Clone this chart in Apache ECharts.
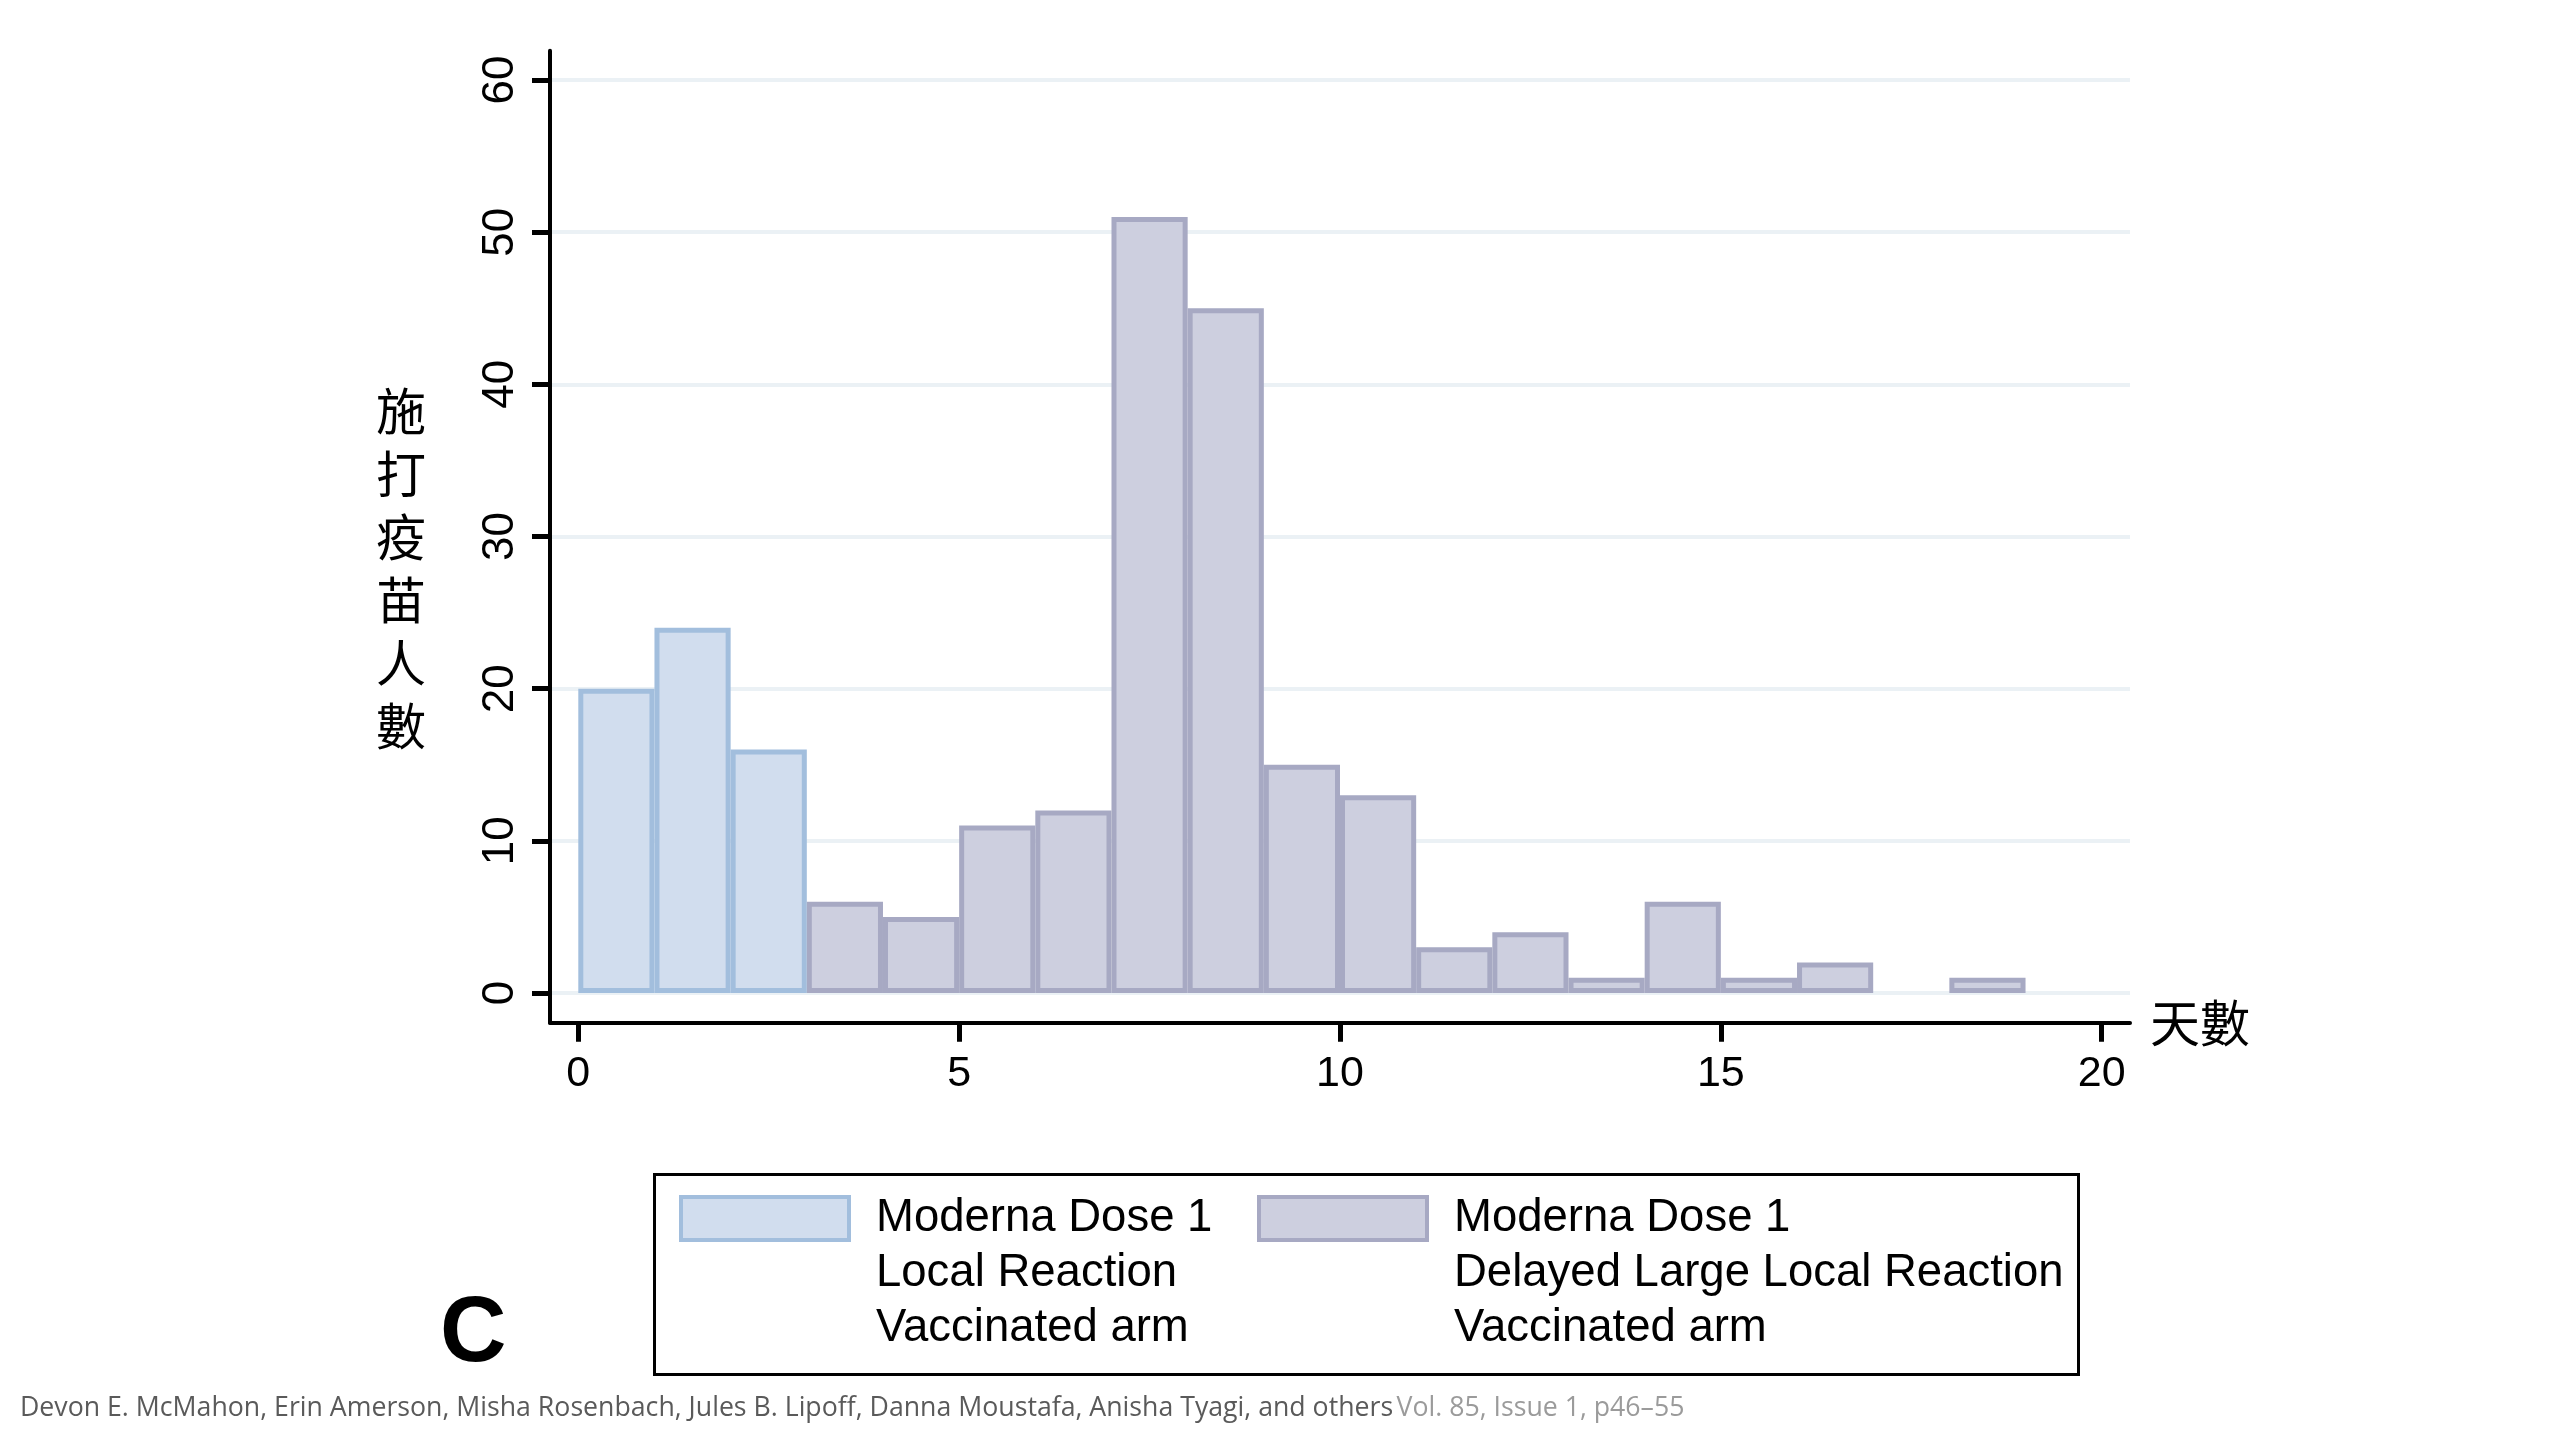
<!DOCTYPE html>
<html>
<head>
<meta charset="utf-8">
<script src="https://cdn.jsdelivr.net/npm/echarts@6/dist/echarts.min.js"></script>
<style>
html,body{margin:0;padding:0;background:#fff;}
#chart{width:2560px;height:1440px;}
</style>
</head>
<body>
<div id="chart"></div>
<script>
// ---- data ----
const binWidth = 1;
const localStarts = [0, 1, 2];
const localCounts = [20, 24, 16];
const delayedStarts = [3, 4, 5, 6, 7, 8, 9, 10, 11, 12, 13, 14, 15, 16, 17, 18];
const delayedCounts = [6, 5, 11, 12, 51, 45, 15, 13, 3, 4, 1, 6, 1, 2, 0, 1];
const xTicks = [0, 5, 10, 15, 20];
const yTicks = [0, 10, 20, 30, 40, 50, 60];
const seriesNames = ['Moderna Dose 1 Local Reaction Vaccinated arm', 'Moderna Dose 1 Delayed Large Local Reaction Vaccinated arm'];
const legendLines = [
  ['Moderna Dose 1', 'Local Reaction', 'Vaccinated arm'],
  ['Moderna Dose 1', 'Delayed Large Local Reaction', 'Vaccinated arm']
];
const yTitle = '施打疫苗人數';
const xTitle = '天數';
const panelLetter = 'C';
const creditAuthors = 'Devon E. McMahon, Erin Amerson, Misha Rosenbach, Jules B. Lipoff, Danna Moustafa, Anisha Tyagi, and others';
const creditSource = 'Vol. 85, Issue 1, p46–55';

// ---- build ----
const localData = localStarts.map((s, i) => [s, s + binWidth, localCounts[i]]);
const delayedData = delayedStarts.map((s, i) => [s, s + binWidth, delayedCounts[i]]);

const blueFill = '#d1ddee', blueStroke = '#a2bedd';
const grayFill = '#cdcfdf', grayStroke = '#a7a9c3';
const sansFont = '"Liberation Sans", Arial, Helvetica, sans-serif';
const cjkFont = '"Noto Sans CJK TC", "Noto Sans CJK SC", sans-serif';

function makeRender(fill, stroke) {
  return function (params, api) {
    const x0 = api.value(0), x1 = api.value(1), v = api.value(2);
    if (!v) return null;
    const p0 = api.coord([x0, 0]);
    const p1 = api.coord([x1, v]);
    const lw = 5;
    return {
      type: 'rect',
      shape: { x: p0[0] + lw / 2, y: p1[1] + lw / 2, width: p1[0] - p0[0] - lw, height: p0[1] - p1[1] - lw },
      style: { fill: fill, stroke: stroke, lineWidth: lw }
    };
  };
}

// pixel geometry
const axL = 550, axB = 1022.7, axT = 50.7, axR = 2130;
const x0px = 578.3, x20px = 2101.7, y0px = 993, y60px = 80;
const pxPerX = (x20px - x0px) / 20, pxPerY = (y0px - y60px) / 60;

const chart = echarts.init(document.getElementById('chart'), null, { renderer: 'canvas' });

function legendItem(idx, left, fill, stroke) {
  return {
    show: true,
    data: [{ name: seriesNames[idx], icon: 'rect', itemStyle: { color: fill, borderColor: stroke, borderWidth: 4 } }],
    left: left,
    top: 1076,
    padding: 5,
    itemWidth: 168,
    itemHeight: 43,
    selectedMode: false,
    formatter: () => '\n\n' + legendLines[idx].join('\n'),
    textStyle: {
      fontFamily: sansFont, fontSize: 45.5, color: '#000', lineHeight: 55,
      padding: [0, 0, 0, 22]
    }
  };
}

const blackLine = { color: '#000', width: 4 };

chart.setOption({
  animation: false,
  backgroundColor: '#fff',
  grid: [
    // 0: frame grid (axis lines)
    { left: axL, top: axT, width: axR - axL, height: axB - axT },
    // 1: y ticks + grid lines
    { left: axL, top: y60px, width: axR - axL, height: y0px - y60px },
    // 2: x ticks
    { left: x0px, top: y60px, width: x20px - x0px, height: axB - y60px },
    // 3: data grid
    { left: x0px, top: y60px, width: x20px - x0px, height: y0px - y60px }
  ],
  xAxis: [
    {
      gridIndex: 0, type: 'value',
      min: (axL - x0px) / pxPerX, max: (axR - x0px) / pxPerX,
      axisLine: { show: true, onZero: false, lineStyle: blackLine },
      axisTick: { show: false }, axisLabel: { show: false }, splitLine: { show: false },
      name: xTitle, nameLocation: 'end', nameGap: 20,
      nameTextStyle: { fontFamily: cjkFont, fontSize: 50, color: '#000', verticalAlign: 'middle' }
    },
    { gridIndex: 1, type: 'value', min: 0, max: 1, show: false },
    {
      gridIndex: 2, type: 'value', min: xTicks[0], max: xTicks[xTicks.length - 1], interval: 5,
      axisLine: { show: true, onZero: false, lineStyle: blackLine },
      axisTick: { show: true, inside: false, length: 19, lineStyle: { color: '#000', width: 5 } },
      axisLabel: { show: true, margin: 30, fontFamily: sansFont, fontSize: 43, color: '#000' },
      splitLine: { show: false }
    },
    { gridIndex: 3, type: 'value', min: xTicks[0], max: xTicks[xTicks.length - 1], show: false }
  ],
  yAxis: [
    {
      gridIndex: 0, type: 'value',
      min: -(axB - y0px) / pxPerY, max: (y0px - axT) / pxPerY,
      axisLine: { show: true, onZero: false, lineStyle: blackLine },
      axisTick: { show: false }, axisLabel: { show: false }, splitLine: { show: false }
    },
    {
      gridIndex: 1, type: 'value', min: yTicks[0], max: yTicks[yTicks.length - 1], interval: 10,
      axisLine: { show: true, onZero: false, lineStyle: blackLine },
      axisTick: { show: true, inside: false, length: 18, lineStyle: { color: '#000', width: 5 } },
      axisLabel: { show: true, rotate: 90, margin: 27, fontFamily: sansFont, fontSize: 44, color: '#000' },
      splitLine: { show: true, lineStyle: { color: '#ebf1f5', width: 4 } },
      name: '\n' + yTitle.split('').join('\n'), nameLocation: 'middle', nameGap: 124, nameRotate: 0,
      nameTextStyle: { fontFamily: cjkFont, fontSize: 50, color: '#000', lineHeight: 63 }
    },
    { gridIndex: 2, type: 'value', min: 0, max: 1, show: false },
    { gridIndex: 3, type: 'value', min: yTicks[0], max: yTicks[yTicks.length - 1], show: false }
  ],
  legend: [
    legendItem(0, 674, blueFill, blueStroke),
    legendItem(1, 1252, grayFill, grayStroke)
  ],
  series: [
    {
      name: seriesNames[0], type: 'custom', xAxisIndex: 3, yAxisIndex: 3,
      encode: { x: [0, 1], y: 2 },
      itemStyle: { color: blueFill, borderColor: blueStroke },
      renderItem: makeRender(blueFill, blueStroke), data: localData
    },
    {
      name: seriesNames[1], type: 'custom', xAxisIndex: 3, yAxisIndex: 3,
      encode: { x: [0, 1], y: 2 },
      itemStyle: { color: grayFill, borderColor: grayStroke },
      renderItem: makeRender(grayFill, grayStroke), data: delayedData
    }
  ],
  graphic: [
    {
      type: 'rect', left: 652, top: 1172, z: 0,
      shape: { width: 1424, height: 200 },
      style: { fill: 'none', stroke: '#000', lineWidth: 3 }
    },
    {
      type: 'text', left: 440, top: 1290,
      style: { text: panelLetter, fontFamily: sansFont, fontWeight: 'bold', fontSize: 92, fill: '#000' }
    },
    {
      type: 'text', left: 20, top: 1395,
      style: {
        text: '{a|' + creditAuthors + '} {b|' + creditSource + '}',
        rich: {
          a: { fontFamily: '"Open Sans", sans-serif', fontSize: 26.7, fill: '#5a5a5a', color: '#5a5a5a' },
          b: { fontFamily: '"Open Sans", sans-serif', fontSize: 26.7, fill: '#9b9b9b', color: '#9b9b9b' }
        }
      }
    }
  ]
});
</script>
</body>
</html>
